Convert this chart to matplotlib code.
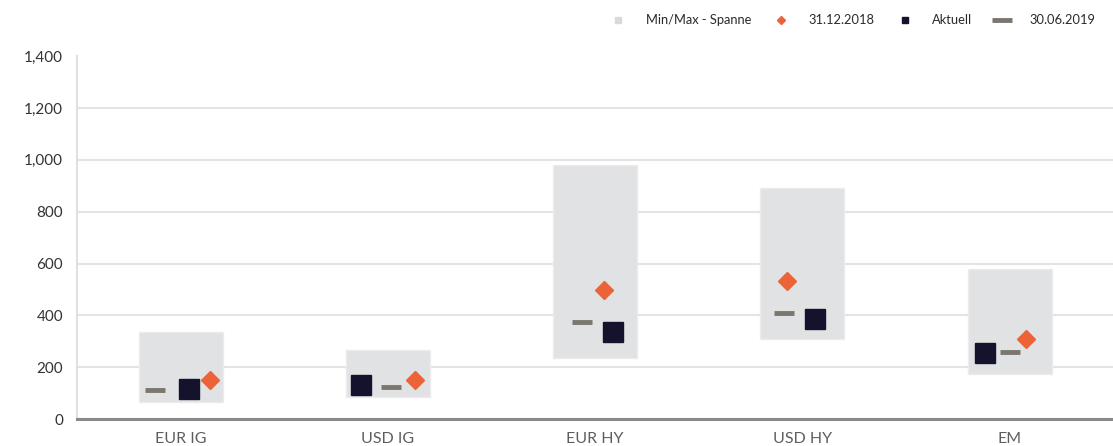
import matplotlib
matplotlib.use("Agg")
import matplotlib.pyplot as plt
from matplotlib.lines import Line2D
from matplotlib.ticker import FuncFormatter

categories = ["EUR IG", "USD IG", "EUR HY", "USD HY", "EM"]
range_min = [67, 85, 235, 308, 174]
range_max = [337, 266, 982, 892, 578]
val_20181231 = [150, 150, 497, 533, 308]
val_aktuell = [117, 131, 337, 386, 256]
val_20190630 = [112, 123, 373, 408, 257]
yticks = [0, 200, 400, 600, 800, 1000, 1200, 1400]

# horizontal placement of markers inside each box (layout only)
off_diamond = [0.14, 0.13, 0.045, -0.072, 0.077]
off_square = [0.04, -0.13, 0.087, 0.063, -0.12]
off_dash = [-0.125, 0.015, -0.063, -0.087, 0.0]

plt.rcParams['font.family'] = ['Lato', 'DejaVu Sans']

C_BOX = "#e1e2e4"
C_DIAM = "#ec6337"
C_SQ = "#15122e"
C_DASH = "#7b776f"

fig = plt.figure(figsize=(11.13, 4.46), dpi=100)
ax = fig.add_axes([0.0692, 0.0605, 0.931, 0.8135])

x = list(range(len(categories)))
heights = [mx - mn for mn, mx in zip(range_min, range_max)]
ax.bar(x, heights, bottom=range_min, width=0.405, color=C_BOX,
       edgecolor="#ececee", linewidth=1.0, zorder=2)

ax.plot([xi + o for xi, o in zip(x, off_dash)], val_20190630, linestyle="none",
        marker="_", markersize=15, markeredgewidth=3.5, color=C_DASH, zorder=3)
ax.plot([xi + o for xi, o in zip(x, off_square)], val_aktuell, linestyle="none",
        marker="s", markersize=14, color=C_SQ, markeredgecolor=C_SQ, zorder=4)
ax.plot([xi + o for xi, o in zip(x, off_diamond)], val_20181231, linestyle="none",
        marker="D", markersize=9.5, color=C_DIAM, markeredgecolor=C_DIAM, zorder=5)

ax.set_xlim(-0.5, 4.5)
ax.set_ylim(0, 1400)
ax.set_yticks(yticks)
ax.yaxis.set_major_formatter(FuncFormatter(lambda v, p: f"{int(v):,}"))
ax.set_xticks(x)
ax.set_xticklabels(categories)

ax.yaxis.grid(True, color="#e4e4e4", linewidth=1.5, zorder=0)
ax.set_axisbelow(True)
ax.get_ygridlines()[-1].set_visible(False)

for s in ["top", "right"]:
    ax.spines[s].set_visible(False)
ax.spines["left"].set_color("#e0e0e0")
ax.spines["left"].set_linewidth(1.5)
ax.spines["bottom"].set_color("#8a8a8a")
ax.spines["bottom"].set_linewidth(2.2)
ax.spines["bottom"].set_zorder(6)

ax.tick_params(axis="y", length=0, pad=10, labelsize=11, labelcolor="#333333")
ax.tick_params(axis="x", length=0, pad=9, labelsize=11.5, labelcolor="#5e5e5e")

handles = [
    Line2D([], [], linestyle="none", marker="s", markersize=5, color="#d8d9db"),
    Line2D([], [], linestyle="none", marker="D", markersize=4.5, color=C_DIAM),
    Line2D([], [], linestyle="none", marker="s", markersize=5, color=C_SQ),
    Line2D([], [], linestyle="none", marker="_", markersize=14, markeredgewidth=3.5, color=C_DASH),
]
labels = ["Min/Max - Spanne", "31.12.2018", "Aktuell", "30.06.2019"]
leg = fig.legend(handles, labels, loc="center right", bbox_to_anchor=(0.995, 0.955),
                 ncol=4, frameon=False, fontsize=9.3, handlelength=1.6,
                 handletextpad=1.35, columnspacing=1.5, labelcolor="#2a2a2a")

fig.savefig("out.png", dpi=100)
